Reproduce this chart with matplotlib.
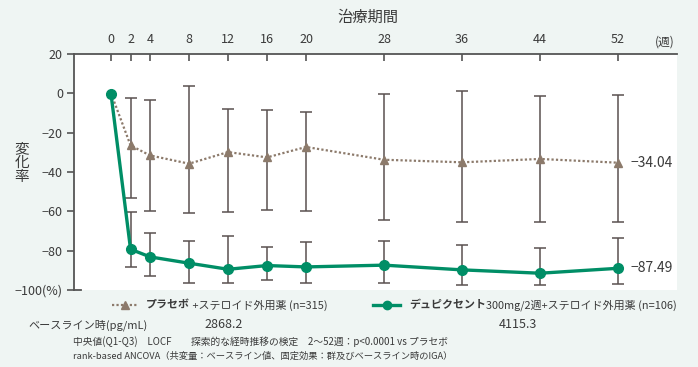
import matplotlib
matplotlib.use("Agg")
import matplotlib.pyplot as plt
import numpy as np

plt.rcParams["font.family"] = ["Noto Sans CJK JP", "DejaVu Sans"]
plt.rcParams["axes.unicode_minus"] = True

# data (median % change, Q1-Q3)
weeks = [0, 2, 4, 8, 12, 16, 20, 28, 36, 44, 52]
placebo = [0, -26.5, -31.6, -35.8, -29.9, -32.6, -27.3, -33.8, -35.1, -33.4, -35.3]
placebo_q3 = [None, -2.4, -3.5, 3.8, -7.8, -8.5, -9.3, -0.4, 1.3, -1.4, -0.7]
placebo_q1 = [None, -53.5, -59.7, -61.0, -60.6, -59.4, -60.1, -64.3, -65.3, -65.3, -65.3]
dupi = [-0.5, -79.3, -83.2, -86.4, -89.5, -87.6, -88.3, -87.4, -89.8, -91.5, -89.0]
dupi_q3 = [None, -60.3, -70.9, -75.1, -72.8, -78.2, -75.8, -75.3, -77.2, -78.8, -73.8]
dupi_q1 = [None, -88.1, -92.9, -96.3, -96.3, -95.1, -96.6, -96.6, -97.4, -97.4, -96.8]
yticks = [20, 0, -20, -40, -60, -80, -100]
ytick_labels = ["20", "0", "−20", "−40", "−60", "−80", "−100(%)"]
end_labels = ["−34.04", "−87.49"]
baseline_vals = ["2868.2", "4115.3"]

BG = "#eff5f3"
GREEN = "#008e66"
BROWN = "#8c7a6b"
BAR = "#5a5150"
TXT = "#3a3a3a"

fig = plt.figure(figsize=(6.98, 3.67), dpi=100, facecolor=BG)
ax = fig.add_axes([0.106, 0.210, 0.864, 0.643])
ax.set_facecolor("white")
ax.set_xlim(-3.8, 58.05)
ax.set_ylim(-100, 20)

for s in ["right", "bottom"]:
    ax.spines[s].set_visible(False)
for s in ["left", "top"]:
    ax.spines[s].set_color("#555555")
    ax.spines[s].set_linewidth(1.3)

# error bars
w = np.array(weeks[1:])
for vals, q3, q1 in [(placebo, placebo_q3, placebo_q1), (dupi, dupi_q3, dupi_q1)]:
    v = np.array(vals[1:])
    lo = v - np.array(q1[1:])
    hi = np.array(q3[1:]) - v
    ax.errorbar(w, v, yerr=[lo, hi], fmt="none", ecolor=BAR, elinewidth=1.1,
                capsize=4, capthick=1.1, zorder=2)

# lines
ax.plot(weeks, placebo, color=BROWN, linestyle=(0, (1, 1)), linewidth=1.6,
        marker="^", markersize=5.5, zorder=3)
ax.plot(weeks, dupi, color=GREEN, linewidth=2.4, marker="o", markersize=7, zorder=4)

# ticks
ax.xaxis.tick_top()
ax.set_xticks(weeks)
ax.set_xticklabels([str(x) for x in weeks], fontsize=9, color=TXT)
ax.tick_params(axis="x", direction="in", length=5, width=1.2, color="#555555", pad=6)
ax.set_yticks(yticks)
ax.set_yticklabels(ytick_labels, fontsize=9, color=TXT)
ax.tick_params(axis="y", direction="out", length=5, width=1.2, color="#555555", pad=3)
ax.axhline(-100, xmax=0.012, color="#555555", linewidth=1.3, clip_on=False)

fig.text(655 / 698, 1 - 42 / 367, "(週)", fontsize=8.5, color=TXT, ha="left", va="center")
ax.text(53.3, placebo[-1], end_labels[0], fontsize=10, color=TXT, va="center")
ax.text(53.3, dupi[-1], end_labels[1], fontsize=10, color=TXT, va="center")

fig.text(368 / 698, 1 - 17 / 367, "治療期間", fontsize=11, color=TXT, ha="center", va="center")
fig.text(22 / 698, 1 - 163 / 367, "変\n化\n率", fontsize=10.5, color=TXT,
         ha="center", va="center", linespacing=1.0)

# legend row
fig.canvas.draw()
renderer = fig.canvas.get_renderer()


def place_parts(x0, y, parts, size):
    x = x0
    for text, weight in parts:
        t = fig.text(x / 698, 1 - y / 367, text, fontsize=size, color=TXT,
                     fontweight=weight, ha="left", va="center")
        bb = t.get_window_extent(renderer)
        x += bb.width


ly = 305
fig.add_artist(plt.Line2D([112 / 698, 138 / 698], [1 - ly / 367] * 2, color=BROWN,
                          linestyle=(0, (1, 1)), linewidth=1.6))
fig.add_artist(plt.Line2D([125 / 698], [1 - ly / 367], color=BROWN, marker="^",
                          markersize=5.5))
place_parts(146, ly, [("プラセボ", "bold"), (" +ステロイド外用薬 (n=315)", "normal")], 7.9)

fig.add_artist(plt.Line2D([373 / 698, 400 / 698], [1 - ly / 367] * 2, color=GREEN,
                          linewidth=2.4))
fig.add_artist(plt.Line2D([387 / 698], [1 - ly / 367], color=GREEN, marker="o",
                          markersize=6))
place_parts(409, ly, [("デュピクセント", "bold"),
                      ("300mg/2週+ステロイド外用薬 (n=106)", "normal")], 7.9)

by = 325
fig.text(28 / 698, 1 - by / 367, "ベースライン時(pg/mL)", fontsize=8, color=TXT,
         ha="left", va="center")
fig.text(224 / 698, 1 - by / 367, baseline_vals[0], fontsize=9, color=TXT,
         ha="center", va="center")
fig.text(518 / 698, 1 - by / 367, baseline_vals[1], fontsize=9, color=TXT,
         ha="center", va="center")

fig.text(73 / 698, 1 - 342 / 367,
         "中央値(Q1-Q3)　LOCF　　探索的な経時推移の検定　2～52週：p<0.0001 vs プラセボ",
         fontsize=7, color=TXT, ha="left", va="center")
fig.text(73 / 698, 1 - 356 / 367,
         "rank-based ANCOVA（共変量：ベースライン値、固定効果：群及びベースライン時のIGA）",
         fontsize=6.7, color=TXT, ha="left", va="center")

fig.savefig("out.png", dpi=100, facecolor=BG)
